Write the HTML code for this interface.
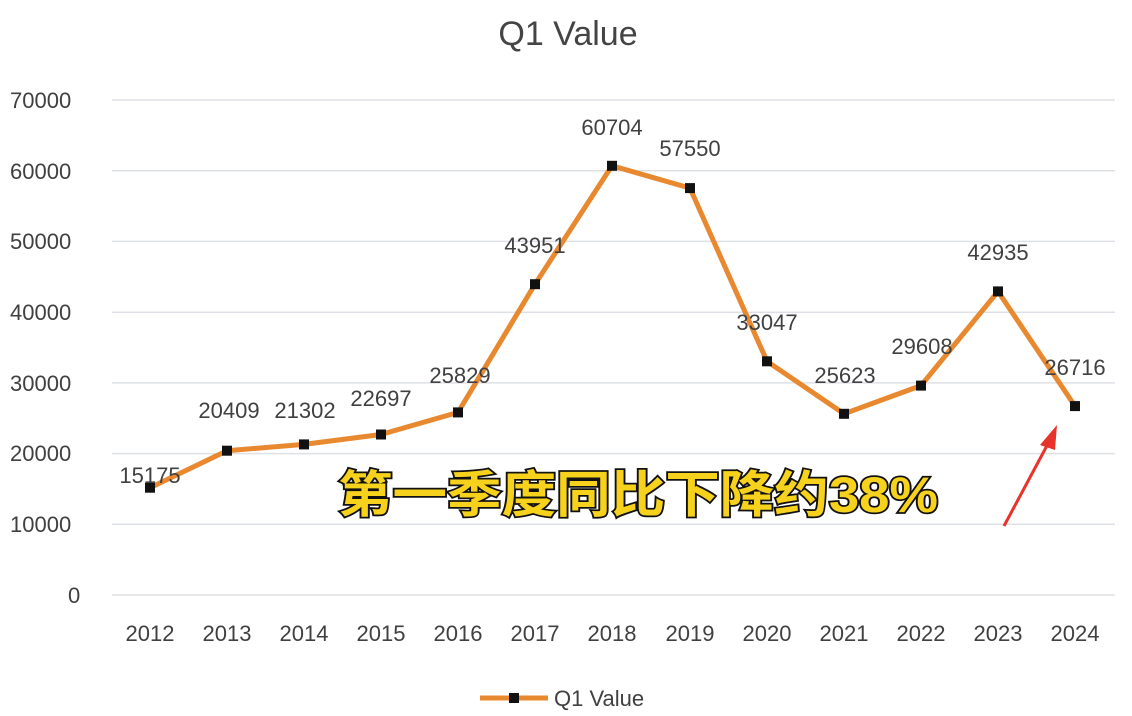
<!DOCTYPE html><html><head><meta charset="utf-8"><style>body{margin:0;background:#fff}svg{display:block}</style></head><body>
<svg width="1132" height="716" xmlns="http://www.w3.org/2000/svg" font-family="Liberation Sans, sans-serif">
<rect width="1132" height="716" fill="#fff"/>
<text x="568" y="45" font-size="34" fill="#444" text-anchor="middle">Q1 Value</text>
<g stroke="#dde0e6" stroke-width="1.5">
<line x1="112" x2="1115" y1="595" y2="595"/><line x1="112" x2="1115" y1="524.3" y2="524.3"/><line x1="112" x2="1115" y1="453.6" y2="453.6"/><line x1="112" x2="1115" y1="382.9" y2="382.9"/><line x1="112" x2="1115" y1="312.2" y2="312.2"/><line x1="112" x2="1115" y1="241.4" y2="241.4"/><line x1="112" x2="1115" y1="170.7" y2="170.7"/><line x1="112" x2="1115" y1="100" y2="100"/>
</g>
<g font-size="22" fill="#404040">
<text x="10" y="108">70000</text><text x="10" y="179">60000</text><text x="10" y="249">50000</text><text x="10" y="320">40000</text><text x="10" y="391">30000</text><text x="10" y="461">20000</text><text x="10" y="532">10000</text><text x="68" y="603">0</text>
</g>
<g font-size="22" fill="#404040" text-anchor="middle">
<text x="150" y="641">2012</text><text x="227" y="641">2013</text><text x="304" y="641">2014</text><text x="381" y="641">2015</text><text x="458" y="641">2016</text><text x="535" y="641">2017</text><text x="612" y="641">2018</text><text x="690" y="641">2019</text><text x="767" y="641">2020</text><text x="844" y="641">2021</text><text x="921" y="641">2022</text><text x="998" y="641">2023</text><text x="1075" y="641">2024</text>
</g>
<polyline fill="none" stroke="#e8882f" stroke-width="5" stroke-linejoin="round" points="150,487.7 227,450.7 304,444.4 381,434.5 458,412.4 535,284.2 612,165.8 690,188.1 767,361.3 844,413.8 921,385.6 998,291.4 1075,406.1"/>
<g fill="#111">
<rect x="145" y="482.7" width="10" height="10"/><rect x="222" y="445.7" width="10" height="10"/><rect x="299" y="439.4" width="10" height="10"/><rect x="376" y="429.5" width="10" height="10"/><rect x="453" y="407.4" width="10" height="10"/><rect x="530" y="279.2" width="10" height="10"/><rect x="607" y="160.8" width="10" height="10"/><rect x="685" y="183.1" width="10" height="10"/><rect x="762" y="356.3" width="10" height="10"/><rect x="839" y="408.8" width="10" height="10"/><rect x="916" y="380.6" width="10" height="10"/><rect x="993" y="286.4" width="10" height="10"/><rect x="1070" y="401.1" width="10" height="10"/>
</g>
<g font-size="22" fill="#404040" text-anchor="middle">
<text x="150" y="483">15175</text><text x="229" y="418">20409</text><text x="305" y="418">21302</text><text x="381" y="406">22697</text><text x="460" y="383">25829</text><text x="535" y="253">43951</text><text x="612" y="135">60704</text><text x="690" y="156">57550</text><text x="767" y="330">33047</text><text x="845" y="383">25623</text><text x="922" y="354">29608</text><text x="998" y="260">42935</text><text x="1075" y="375">26716</text>
</g>
<text x="338" y="512" font-size="50" font-weight="bold" fill="#f7d21c" stroke="#111" stroke-width="3.5" paint-order="stroke" textLength="600" lengthAdjust="spacingAndGlyphs" font-family="Liberation Sans, Noto Sans CJK SC, sans-serif">第一季度同比下降约38%</text>
<line x1="1004" y1="526" x2="1050" y2="440" stroke="#e8332b" stroke-width="3"/>
<polygon points="1057,425 1040,445 1055,450" fill="#e8332b"/>
<line x1="480" x2="548" y1="698" y2="698" stroke="#e8882f" stroke-width="5"/>
<rect x="509" y="693" width="10" height="10" fill="#111"/>
<text x="554" y="706" font-size="22" fill="#404040">Q1 Value</text>
</svg></body></html>
